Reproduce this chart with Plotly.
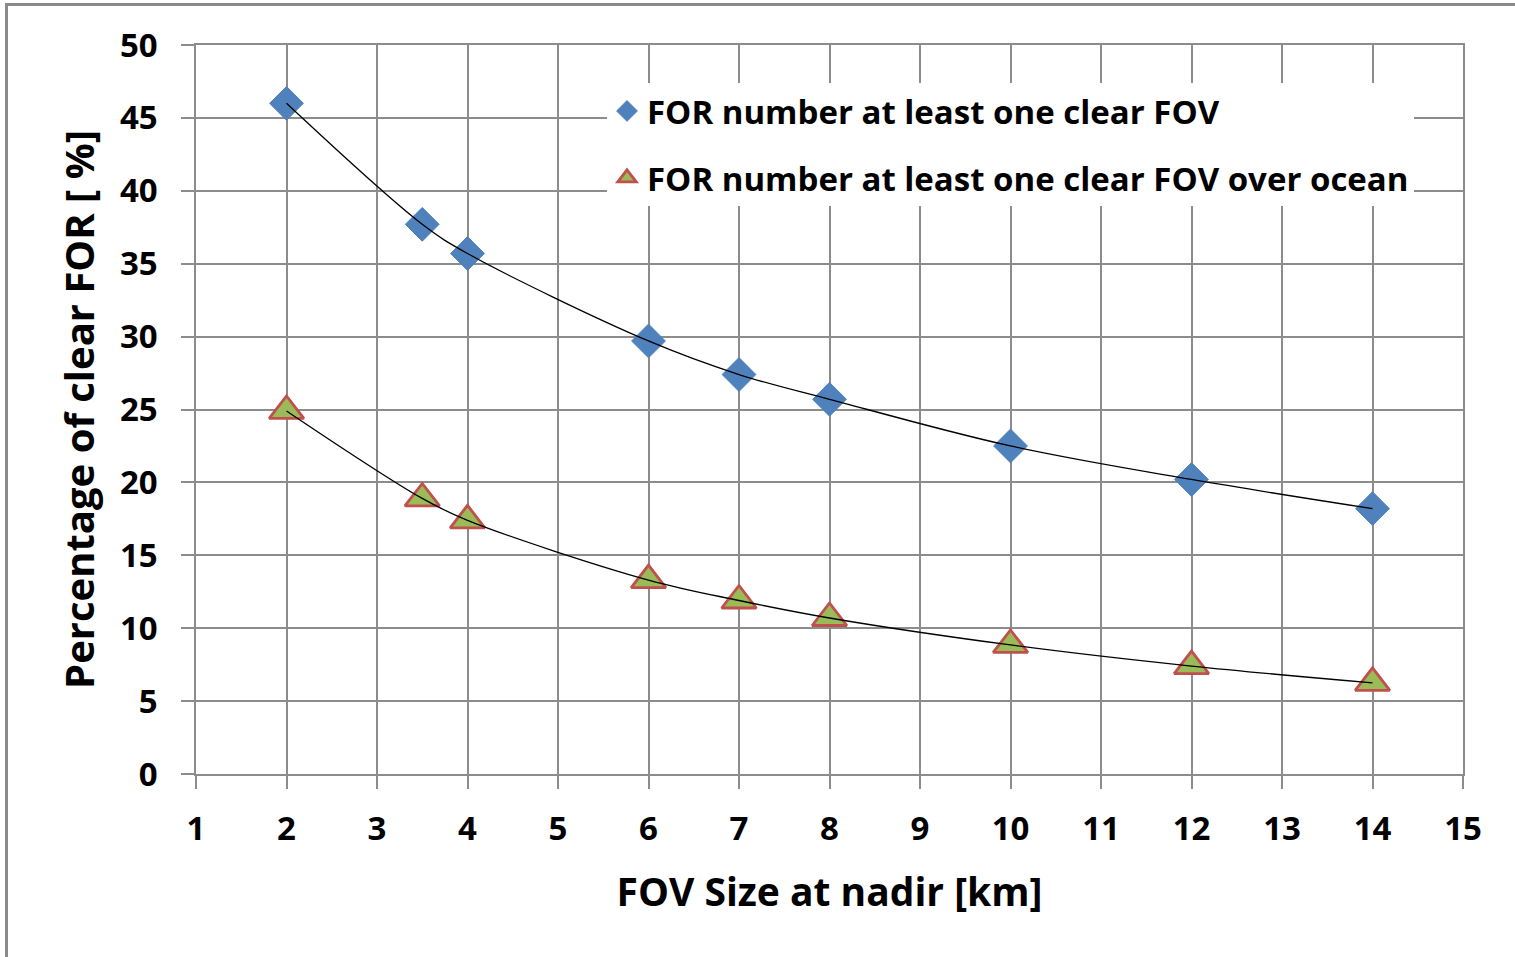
import plotly.graph_objects as go

fov_size = [2, 3.5, 4, 6, 7, 8, 10, 12, 14]
clear_fov = [46.0, 37.7, 35.7, 29.7, 27.4, 25.7, 22.5, 20.2, 18.2]
clear_fov_ocean = [24.9, 18.9, 17.4, 13.3, 11.9, 10.7, 8.85, 7.4, 6.25]
x_ticks = list(range(1, 16))
y_ticks = list(range(0, 55, 5))

name1 = "FOR number at least one clear FOV"
name2 = "FOR number at least one clear FOV over ocean"

FONT = "Open Sans"
GRID = "#8c8c8c"

fig = go.Figure()
fig.add_trace(go.Scatter(
    x=fov_size, y=clear_fov, mode="markers", name=name1, legendgroup="a",
    marker=dict(symbol="diamond", size=26, color="#4F81BD",
                line=dict(color="#4F81BD", width=1))))
fig.add_trace(go.Scatter(
    x=fov_size, y=clear_fov_ocean, mode="markers", name=name2, legendgroup="b",
    marker=dict(symbol="triangle-up", size=30, color="#9BBB59",
                line=dict(color="#C0504D", width=2.8))))
for ys in (clear_fov, clear_fov_ocean):
    fig.add_trace(go.Scatter(x=fov_size, y=ys, mode="lines", showlegend=False,
                             hoverinfo="skip", line_shape="spline",
                             line=dict(color="black", width=1.3, smoothing=1.0)))

W, H = 1515, 957
L, R, T, B = 196, 52, 45, 183
pw, ph = W - L - R, H - T - B

fig.update_layout(
    width=W, height=H,
    margin=dict(l=L, r=R, t=T, b=B),
    paper_bgcolor="white", plot_bgcolor="white",
    font=dict(family=FONT, size=32, color="black"),
    showlegend=True,
    legend=dict(x=(607 - L) / pw, y=(H - B - 83) / ph, xanchor="left",
                yanchor="top", bgcolor="white", borderwidth=0,
                traceorder="grouped", tracegroupgap=21,
                font=dict(family=FONT, size=33, color="black", weight="bold"),
                itemsizing="trace"),
    xaxis=dict(range=[1, 15], tickvals=x_ticks, ticktext=[str(v) for v in x_ticks],
               showgrid=True, gridcolor=GRID, gridwidth=1.5,
               showline=True, linecolor=GRID, linewidth=1.5, mirror=True,
               ticks="outside", ticklen=13, tickcolor=GRID, tickwidth=1.5,
               zeroline=False, ticklabelstandoff=12,
               tickfont=dict(family=FONT, size=33, weight="bold"),
               title=dict(text="FOV Size at nadir [km]", standoff=29,
                          font=dict(family=FONT, size=39, weight="bold"))),
    yaxis=dict(range=[0, 50], tickvals=y_ticks, ticktext=[str(v) for v in y_ticks],
               showgrid=True, gridcolor=GRID, gridwidth=1.5,
               showline=True, linecolor=GRID, linewidth=1.5, mirror=True,
               ticks="outside", ticklen=13, tickcolor=GRID, tickwidth=1.5,
               zeroline=False, ticklabelstandoff=17,
               tickfont=dict(family=FONT, size=33, weight="bold"),
               title=dict(text="Percentage of clear FOR [ %]", standoff=13,
                          font=dict(family=FONT, size=40, weight="bold"))),
    shapes=[dict(type="rect", xref="paper", yref="paper",
                 x0=(6.5 - L) / pw, x1=2.0, y0=-2.0, y1=(H - B - 4.5) / ph,
                 line=dict(color="#8a8a8a", width=3), fillcolor="rgba(0,0,0,0)",
                 layer="below")],
)

fig.write_html("out.html", config={"displayModeBar": False},
               post_script="document.body.style.margin='0px';")
